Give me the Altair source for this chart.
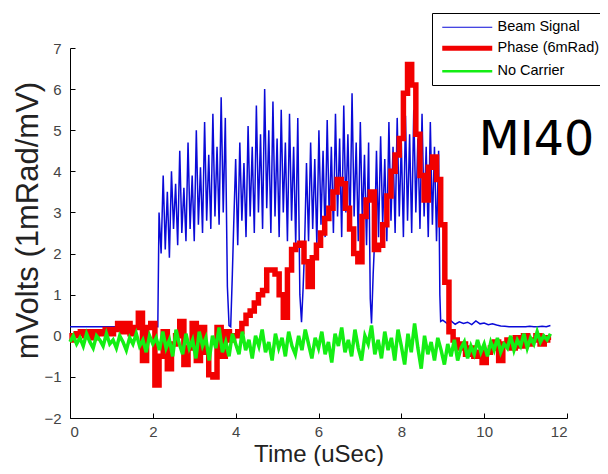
import altair as alt
import pandas as pd

# ---------------- data ----------------
series_names = ["Beam Signal", "Phase (6mRad)", "No Carrier"]
series_colors = ["#0a0ad8", "#f20000", "#14ee14"]

x_ticks = [0, 2, 4, 6, 8, 10, 12]
y_ticks = [-2, -1, 0, 1, 2, 3, 4, 5, 6, 7]

# Beam signal (blue): baseline, four bursts separated by narrow dips, tail
beam_pre_t = [0.0, 2.12]
beam_pre_v = [0.22, 0.22]
beam_burst1 = [3.0, 2.0, 3.9, 2.1, 3.5, 1.9, 4.0, 2.6, 3.7, 2.2, 4.5, 2.5, 3.6, 2.3, 4.7,
               2.6, 3.9, 2.3, 5.0, 2.7, 4.1, 2.5, 5.2, 2.8, 4.4, 2.6, 5.4, 2.9, 4.6, 2.7,
               5.8, 3.0, 5.3]
beam_dip1_t = [3.80, 3.84, 3.88, 3.92]
beam_dip1_v = [1.2, 0.25, 0.22, 1.5]
beam_burst2 = [2.6, 4.3, 2.2, 4.7, 2.8, 4.2, 2.4, 5.1, 2.9, 4.6, 2.5, 5.6, 3.0, 4.9, 2.6,
               6.0, 3.1, 5.0, 2.5, 5.7, 2.9, 4.8, 2.4, 5.5, 3.0, 4.7, 2.3, 5.4, 2.8, 4.6,
               2.2, 5.3]
beam_dip2_t = [5.55, 5.59, 5.63]
beam_dip2_v = [1.0, 0.33, 1.2]
beam_burst3 = [2.0, 4.2, 2.3, 4.7, 2.6, 4.3, 2.2, 5.0, 2.7, 4.5, 2.4, 5.25, 2.8, 4.6, 2.5,
               5.4, 2.9, 4.8, 2.4, 5.6, 3.0, 4.9, 2.6, 5.9, 2.9, 4.7, 2.3, 5.2, 2.7, 4.4,
               2.2, 4.7]
beam_dip3_t = [7.25, 7.28, 7.32]
beam_dip3_v = [0.9, 0.3, 1.5]
beam_burst4 = [2.2, 4.5, 2.4, 4.85, 2.7, 4.3, 2.3, 5.2, 2.8, 4.6, 2.5, 5.3, 2.9, 4.7, 2.4,
               5.35, 2.8, 4.9, 2.5, 5.5, 3.0, 4.8, 2.6, 5.4, 2.9, 4.6, 2.4, 5.2, 2.7, 4.6,
               2.3, 4.5]
beam_fall_t = [8.93, 8.95]
beam_fall_v = [1.0, 0.35]
beam_tail = [0.38, 0.30, 0.36, 0.28, 0.34, 0.30, 0.33, 0.27, 0.36, 0.29, 0.31, 0.27, 0.29,
             0.26, 0.24, 0.23, 0.22, 0.22, 0.22, 0.22, 0.22, 0.23, 0.22, 0.22, 0.23, 0.22,
             0.25]

# Phase (red), sampled every 0.1 us from 0 to 11.6
phase_vals = [
    -0.10, 0.00, 0.05, 0.10, 0.00, 0.10, -0.05, 0.10, 0.05, 0.15,
    0.05, 0.15, 0.30, 0.10, 0.30, 0.05, 0.20, 0.55, -0.60, 0.20,
    0.30, -1.20, -0.50, 0.10, -0.80, -0.20, 0.00, 0.35, -0.70, -0.30,
    0.30, -0.60, 0.20, -0.40, -0.95, -1.00, 0.20, -0.50, 0.10, -0.10,
    0.00, 0.10, 0.30, 0.50, 0.60, 0.80, 1.00, 1.10, 1.60, 1.60,
    1.50, 1.00, 0.45, 1.60, 2.10, 2.20, 2.25, 1.80, 1.20, 1.90,
    2.20, 2.50, 2.85, 3.10, 3.50, 3.80, 3.70, 3.10, 2.60, 2.00,
    1.80, 2.90, 3.30, 3.50, 2.10, 2.20, 2.70, 3.40, 4.00, 4.40,
    4.80, 5.90, 6.60, 6.10, 4.90, 3.90, 3.30, 4.10, 4.35, 3.80,
    2.70, 1.30, 0.10, -0.10, -0.30, -0.20, -0.45, -0.30, -0.50, -0.40,
    -0.65, -0.40, -0.30, -0.15, -0.60, -0.20, -0.10, -0.30, -0.05, -0.25,
    0.00, -0.20, -0.10, 0.00, -0.20, -0.05, -0.10,
]

# No carrier (green), sampled every 0.08 us from 0 to 11.6
carrier_vals = [
    -0.15, 0.00, -0.20, -0.05, -0.25, 0.05, -0.15, -0.30, 0.00, -0.10,
    -0.25, 0.05, -0.20, -0.10, -0.30, 0.00, -0.15, -0.35, -0.05, -0.20,
    0.05, -0.25, -0.10, -0.40, 0.00, -0.20, -0.05, -0.35, 0.10, -0.30,
    -0.10, -0.50, 0.15, -0.20, -0.45, 0.05, -0.30, -0.10, -0.55, 0.10,
    -0.25, -0.05, -0.60, 0.00, -0.30, 0.20, -0.40, -0.15, -0.50, 0.05,
    -0.20, -0.45, 0.10, -0.35, -0.10, -0.55, 0.00, -0.25, 0.15, -0.40,
    -0.15, -0.60, 0.05, -0.30, -0.05, -0.50, 0.10, -0.25, -0.45, 0.00,
    -0.35, 0.15, -0.20, -0.55, -0.05, -0.30, 0.10, -0.45, -0.15, -0.65,
    0.05, -0.25, 0.20, -0.40, -0.10, -0.50, 0.15, -0.30, -0.60, 0.00,
    -0.20, 0.25, -0.45, -0.10, -0.55, 0.10, -0.35, -0.05, -0.60, 0.15,
    -0.25, -0.70, 0.05, -0.40, 0.30, -0.30, -0.80, 0.00, -0.45, -0.15,
    -0.60, -0.05, -0.35, -0.70, -0.20, -0.50, -0.10, -0.60, -0.30, -0.15,
    -0.55, -0.25, -0.45, -0.10, -0.40, -0.20, -0.50, -0.15, -0.35, -0.05,
    -0.40, -0.20, -0.30, 0.00, -0.35, -0.10, -0.25, 0.05, -0.30, -0.05,
    -0.20, 0.10, -0.15, 0.00, -0.10, 0.05,
]

annotation = ["MI40"]


def grid(start, step, n):
    return [round(start + step * i, 4) for i in range(n)]


beam_t = (beam_pre_t + grid(2.15, 0.05, len(beam_burst1)) + beam_dip1_t
          + grid(3.95, 0.05, len(beam_burst2)) + beam_dip2_t
          + grid(5.66, 0.05, len(beam_burst3)) + beam_dip3_t
          + grid(7.35, 0.05, len(beam_burst4)) + beam_fall_t
          + grid(9.0, 0.1, len(beam_tail)))
beam_v = (beam_pre_v + beam_burst1 + beam_dip1_v + beam_burst2 + beam_dip2_v
          + beam_burst3 + beam_dip3_v + beam_burst4 + beam_fall_v + beam_tail)

df_beam = pd.DataFrame({"t": beam_t, "v": beam_v, "series": series_names[0]})
df_phase = pd.DataFrame({"t": grid(0.0, 0.1, len(phase_vals)), "v": phase_vals,
                         "series": series_names[1]})
df_carrier = pd.DataFrame({"t": grid(0.0, 0.08, len(carrier_vals)), "v": carrier_vals,
                           "series": series_names[2]})

# ---------------- chart ----------------
FONT = "Liberation Sans"
xscale = alt.Scale(domain=[0, 12], nice=False, zero=False)
yscale = alt.Scale(domain=[-2, 7], nice=False, zero=False)

legend = alt.Legend(
    title=None, orient="none", legendX=362, legendY=-35, direction="vertical",
    fillColor="white", strokeColor="black", padding=7, cornerRadius=0,
    symbolType="M-5,0H5", symbolSize=100, symbolOffset=21, labelOffset=23,
    labelFontSize=14.5, labelFont=FONT, labelColor="black", rowPadding=4,
    symbolStrokeWidth=alt.ExprRef(
        "datum.value === 'Phase (6mRad)' ? 5 : (datum.value === 'No Carrier' ? 2.5 : 1)"),
)
color = alt.Color("series:N", scale=alt.Scale(domain=series_names, range=series_colors),
                  legend=legend)

# inward ticks (MATLAB style): tick length given as an expression
x_axis = alt.Axis(values=x_ticks, ticks=True, tickSize=alt.ExprRef("-5"), tickColor="black",
                  grid=False, labelPadding=11,
                  labelFontSize=15, labelColor="#444444", labelFont=FONT,
                  domainColor="black", title="Time (uSec)", titleFontSize=24,
                  titleFont=FONT, titleFontWeight="normal", titleColor="#222222",
                  titleX=248.5, titleY=43.5, titleBaseline="alphabetic")
y_axis = alt.Axis(values=y_ticks, ticks=True, tickSize=alt.ExprRef("-5"), tickColor="black",
                  grid=False, labelPadding=14,
                  labelFontSize=15, labelColor="#444444", labelFont=FONT,
                  domainColor="black", title="mVolts (1mRad/mV)", titleFontSize=31,
                  titleFont=FONT, titleFontWeight="normal", titleColor="#222222",
                  titleX=-33, titleY=172, titleBaseline="alphabetic")


def X(field):
    return alt.X(field, scale=xscale, axis=x_axis)


def Y(field):
    return alt.Y(field, scale=yscale, axis=y_axis)


beam = alt.Chart(df_beam).mark_line(strokeWidth=1.5).encode(
    x=X("t:Q"), y=Y("v:Q"), color=color, order="t:Q")

phase = alt.Chart(df_phase).mark_line(strokeWidth=5.5, interpolate="step").encode(
    x=X("t:Q"), y=Y("v:Q"), color=color, order="t:Q")

carrier = alt.Chart(df_carrier).mark_line(strokeWidth=3.5).encode(
    x=X("t:Q"), y=Y("v:Q"), color=color, order="t:Q")

label = alt.Chart(pd.DataFrame({"x": [9.87], "y": [4.4], "text": annotation})).mark_text(
    align="left", baseline="alphabetic", fontSize=47.5, font="DejaVu Sans", color="black").encode(
    x=X("x:Q"), y=Y("y:Q"), text="text:N")

chart = alt.layer(beam, phase, carrier, label).properties(
    width=497, height=370, background="white",
    autosize=alt.AutoSizeParams(type="none"),
    padding={"left": 62, "top": 40, "right": 33, "bottom": 48},
).configure_view(stroke=None)

chart.save("out.html", embed_options={"renderer": "svg", "actions": False})
